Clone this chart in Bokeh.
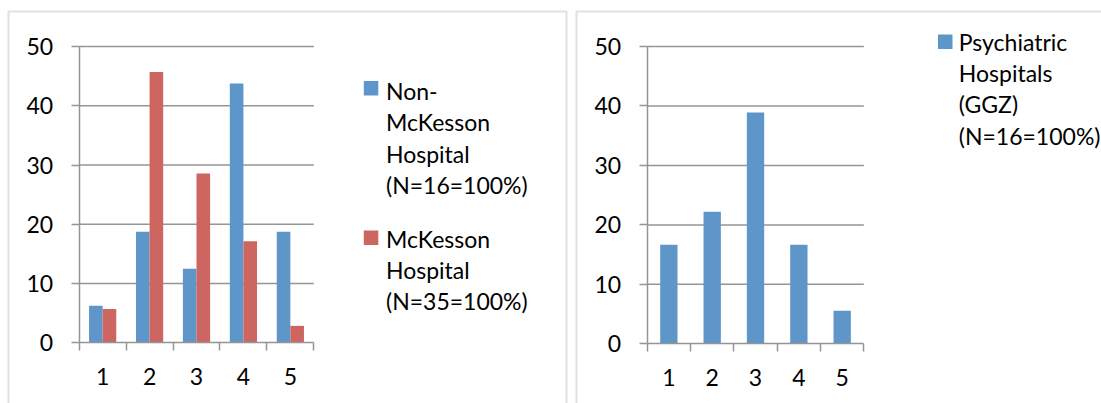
from bokeh.plotting import figure
from bokeh.layouts import row
from bokeh.models import ColumnDataSource, FixedTicker, BoxAnnotation, Label, Range1d
from bokeh.embed import file_html
from bokeh.resources import INLINE

# ---- data -------------------------------------------------------------
categories = [1, 2, 3, 4, 5]
category_labels = ["1", "2", "3", "4", "5"]
y_ticks = [0, 10, 20, 30, 40, 50]

# percentage of respondents per answer category
non_mckesson = [6.25, 18.75, 12.5, 43.75, 18.75]   # N=16
mckesson = [5.71, 45.71, 28.57, 17.14, 2.86]       # N=35
psychiatric = [16.67, 22.22, 38.89, 16.67, 5.56]   # GGZ

legend_non_mckesson = ["Non-", "McKesson", "Hospital", "(N=16=100%)"]
legend_mckesson = ["McKesson", "Hospital", "(N=35=100%)"]
legend_psychiatric = ["Psychiatric", "Hospitals", "(GGZ)", "(N=16=100%)"]

# ---- style ------------------------------------------------------------
BLUE = "#5F96CA"
RED = "#CD6560"
GRID = "#959595"
FRAME = "#9C9C9C"
FONT = "Lato"
FONT_SIZE = "23px"
H = 403
TEXT_SHIFT = 10.5   # the label baseline sits this much lower than requested


def make_panel(width, axis_x, cat_px, zero_y, top_y):
    """Figure whose frame fills the canvas; the value axis sits at x=0.5
    (axis_x px from the left), each category is cat_px wide, value 0 is
    drawn zero_y px from the top and the top tick top_y px from the top."""
    ymax = y_ticks[-1]
    ppu = (zero_y - top_y) / ymax
    x_start = 0.5 - axis_x / cat_px
    x_end = x_start + width / cat_px
    y_start = -(H - zero_y) / ppu
    y_end = ymax + top_y / ppu
    p = figure(width=width, height=H,
               x_range=Range1d(x_start, x_end), y_range=Range1d(y_start, y_end),
               output_backend="svg", toolbar_location=None, min_border=0,
               title=None)
    p.background_fill_color = "white"
    p.border_fill_color = "white"
    p.outline_line_color = None
    p.grid.visible = False

    # horizontal gridlines over the plot area
    p.segment(x0=[categories[0] - 0.5] * (len(y_ticks) - 1),
              x1=[categories[-1] + 0.5] * (len(y_ticks) - 1),
              y0=y_ticks[1:], y1=y_ticks[1:],
              line_color=GRID, line_width=1.5)

    xa = p.xaxis[0]
    xa.fixed_location = 0
    xa.bounds = (categories[0] - 0.5, categories[-1] + 0.5)
    xa.ticker = FixedTicker(ticks=categories,
                            minor_ticks=[c - 0.5 for c in categories] + [categories[-1] + 0.5])
    xa.major_label_overrides = {c: l for c, l in zip(categories, category_labels)}
    xa.major_tick_out = 0
    xa.major_tick_in = 0
    xa.minor_tick_out = 8
    xa.minor_tick_in = 0
    xa.major_label_standoff = 17

    ya = p.yaxis[0]
    ya.fixed_location = categories[0] - 0.5
    ya.bounds = (y_ticks[0], y_ticks[-1])
    ya.ticker = FixedTicker(ticks=y_ticks, minor_ticks=[])
    ya.major_tick_out = 8
    ya.major_tick_in = 0
    ya.minor_tick_out = 0
    ya.minor_tick_in = 0
    ya.major_label_standoff = 18

    for ax in (xa, ya):
        ax.axis_line_color = GRID
        ax.axis_line_width = 1.5
        ax.major_tick_line_color = GRID
        ax.major_tick_line_width = 1.5
        ax.minor_tick_line_color = GRID
        ax.minor_tick_line_width = 1.5
        ax.major_label_text_font = FONT
        ax.major_label_text_font_size = FONT_SIZE
        ax.major_label_text_color = "black"
    return p


def screen_box(p, left, right, top, bottom, **kw):
    p.add_layout(BoxAnnotation(left=left, right=right, top=H - top, bottom=H - bottom,
                               left_units="screen", right_units="screen",
                               top_units="screen", bottom_units="screen", **kw))


def legend_entry(p, color, lines, key_left, key_top, text_x, first_baseline, step=31.4):
    screen_box(p, key_left, key_left + 14.5, key_top, key_top + 14.5,
               fill_color=color, fill_alpha=1, line_color=None)
    for i, line in enumerate(lines):
        p.add_layout(Label(x=text_x, y=H - (first_baseline + i * step - TEXT_SHIFT),
                           x_units="screen", y_units="screen", text=line,
                           text_font=FONT, text_font_size=FONT_SIZE,
                           text_color="black", text_align="left",
                           text_baseline="alphabetic"))


# ---- left chart: hospitals with / without McKesson --------------------
p1 = make_panel(571, axis_x=78.7, cat_px=46.92, zero_y=342.3, top_y=46)
src1 = ColumnDataSource(dict(
    x_non=[c - 0.145 for c in categories],
    x_mck=[c + 0.145 for c in categories],
    non=non_mckesson, mck=mckesson))
p1.vbar(x="x_non", top="non", bottom=0, width=0.29, source=src1,
        fill_color=BLUE, line_color=None)
p1.vbar(x="x_mck", top="mck", bottom=0, width=0.29, source=src1,
        fill_color=RED, line_color=None)
screen_box(p1, 8, 566, 11, H + 20, fill_color=None, line_color=FRAME, line_width=2)
legend_entry(p1, BLUE, legend_non_mckesson, 363.3, 80.5, 385.5, 101)
legend_entry(p1, RED, legend_mckesson, 363.3, 230, 385.5, 248.5)

# ---- right chart: psychiatric hospitals -------------------------------
p2 = make_panel(530, axis_x=75.7, cat_px=43.33, zero_y=343.3, top_y=46)
src2 = ColumnDataSource(dict(x=categories, v=psychiatric))
p2.vbar(x="x", top="v", bottom=0, width=0.4, source=src2,
        fill_color=BLUE, line_color=None)
screen_box(p2, 5, 600, 11, H + 20, fill_color=None, line_color=FRAME, line_width=2)
legend_entry(p2, BLUE, legend_psychiatric, 366.5, 34, 387.3, 51.5)

layout = row(p1, p2, spacing=0)
open("out.html", "w").write(file_html(layout, INLINE))
